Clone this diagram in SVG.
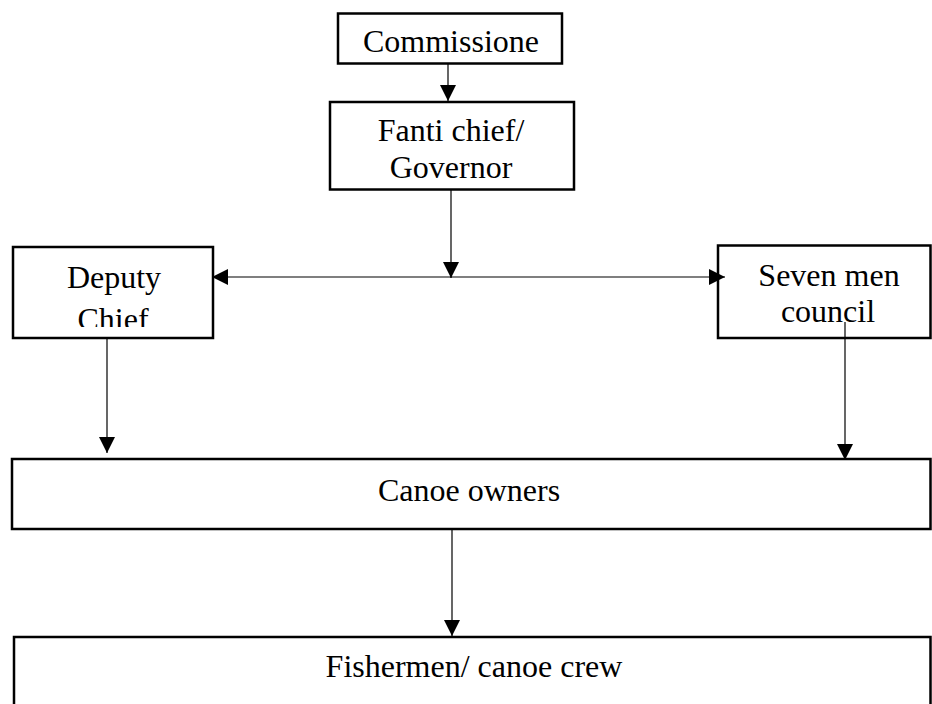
<svg xmlns="http://www.w3.org/2000/svg" width="932" height="704" viewBox="0 0 932 704">
<style>
.box{fill:#fff;stroke:#000;stroke-width:2.5}
.lbl{font-family:"Liberation Serif","Times New Roman",serif;font-size:32px;fill:#000;text-anchor:middle}
.conn{stroke:#000;stroke-width:1.2;fill:none}
</style>
<defs>
<marker id="ah" markerUnits="userSpaceOnUse" markerWidth="16" markerHeight="16" viewBox="0 0 15 15" refX="15" refY="7.5" orient="auto-start-reverse">
<path d="M0,0 L15,7.5 L0,15 Z" fill="#000"/>
</marker>
<clipPath id="clipDeputy"><rect x="14" y="248" width="198" height="79"/></clipPath>
</defs>
<rect width="932" height="704" fill="#fff"/>
<g id="commissione">
<rect class="box" x="338" y="13.5" width="224" height="50"/>
<text class="lbl" x="451" y="52">Commissione</text>
</g>
<g id="fanti">
<rect class="box" x="330" y="102" width="244" height="87.5"/>
<text class="lbl" x="451" y="141">Fanti chief/</text>
<text class="lbl" x="451" y="178">Governor</text>
</g>
<g id="deputy">
<rect class="box" x="13" y="247" width="200" height="91"/>
<g clip-path="url(#clipDeputy)">
<text class="lbl" x="114" y="288">Deputy</text>
<text class="lbl" x="113" y="330">Chief</text>
</g>
</g>
<g id="seven">
<rect class="box" x="718" y="245.5" width="212.5" height="92.5"/>
<text class="lbl" x="829" y="286">Seven men</text>
<text class="lbl" x="828" y="322">council</text>
</g>
<g id="canoe">
<rect class="box" x="12" y="459" width="918.5" height="70"/>
<text class="lbl" x="469" y="501">Canoe owners</text>
</g>
<g id="fishermen">
<rect class="box" x="14" y="637" width="916.5" height="100"/>
<text class="lbl" x="474" y="677">Fishermen/ canoe crew</text>
</g>
<g id="connectors">
<line class="conn" x1="448" y1="64" x2="448" y2="101" marker-end="url(#ah)"/>
<line class="conn" x1="451" y1="190" x2="451" y2="278" marker-end="url(#ah)"/>
<line class="conn" x1="212" y1="277" x2="725" y2="277" marker-start="url(#ah)" marker-end="url(#ah)"/>
<line class="conn" x1="107" y1="338" x2="107" y2="453" marker-end="url(#ah)"/>
<line class="conn" x1="845" y1="322" x2="845" y2="460" marker-end="url(#ah)"/>
<line class="conn" x1="452" y1="529" x2="452" y2="636" marker-end="url(#ah)"/>
</g>
</svg>
